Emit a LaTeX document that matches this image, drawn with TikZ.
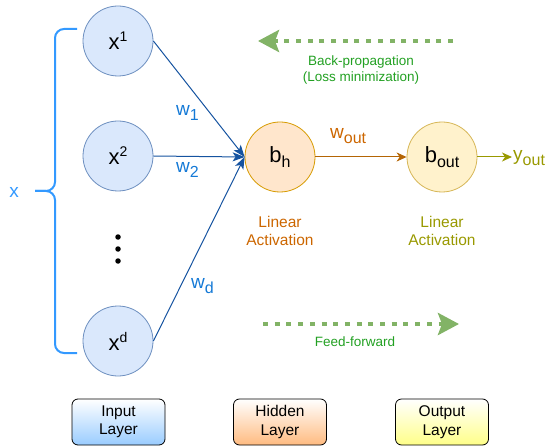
\documentclass[tikz,border=0pt]{standalone}
\usepackage{fontspec}
\setmainfont{Liberation Sans}
\usetikzlibrary{arrows.meta,shapes.geometric}
\definecolor{inFill}{HTML}{DAE8FC}
\definecolor{inDraw}{HTML}{6C8EBF}
\definecolor{hFill}{HTML}{FFE6CC}
\definecolor{hDraw}{HTML}{D79B00}
\definecolor{oFill}{HTML}{FFF2CC}
\definecolor{oDraw}{HTML}{D6B656}
\definecolor{edgeBlue}{HTML}{1553A0}
\definecolor{wBlue}{HTML}{1479D6}
\definecolor{braceBlue}{HTML}{3399FF}
\definecolor{edgeBrown}{HTML}{B46504}
\definecolor{txtOrange}{HTML}{CC6600}
\definecolor{olive}{HTML}{999900}
\definecolor{arrGreen}{HTML}{82B366}
\definecolor{txtGreen}{HTML}{22A022}
\definecolor{gBlue}{HTML}{99CCFF}
\definecolor{gOrange}{HTML}{FFBB80}
\definecolor{gYellow}{HTML}{FFFF88}
\newcommand\mysup[1]{\raisebox{8pt}{\fontsize{14}{14}\selectfont #1}}
\newcommand\mysub[1]{\raisebox{-5pt}{\fontsize{16}{16}\selectfont #1}}
\tikzset{
  neuronin/.style={circle,minimum size=70pt,inner sep=0pt,fill=inFill,draw=inDraw,line width=0.8pt,font=\fontsize{22}{24}\selectfont},
  neuronh/.style={circle,minimum size=70pt,inner sep=0pt,fill=hFill,draw=hDraw,line width=0.8pt,font=\fontsize{22}{24}\selectfont},
  neurono/.style={circle,minimum size=70pt,inner sep=0pt,fill=oFill,draw=oDraw,line width=0.8pt,font=\fontsize{22}{24}\selectfont},
  wlabel/.style={text=wBlue,font=\fontsize{19}{22}\selectfont,inner sep=0pt,anchor=base west},
  inedge/.style={draw=edgeBlue,line width=1pt,-{Stealth[length=12pt,width=9pt,inset=3pt]}},
  flowarrow/.style={draw=arrGreen,line width=4.5pt,dash pattern=on 5pt off 6.7pt,-{Stealth[length=21pt,width=22pt,inset=4pt]}},
  greentxt/.style={text=txtGreen,font=\fontsize{13.5}{16}\selectfont,align=center,inner sep=0pt},
  acttxt/.style={font=\fontsize{15.5}{18.5}\selectfont,align=center,inner sep=0pt},
  layerbox/.style={draw=black,line width=0.8pt,rounded corners=6pt,minimum width=93pt,minimum height=46pt,align=center,font=\fontsize{15.5}{18.5}\selectfont,inner sep=0pt},
  dot/.style={circle,fill=black,inner sep=0pt,minimum size=5.5pt}
}
\begin{document}
\begin{tikzpicture}[x=1pt,y=-1pt]
\useasboundingbox (0,0) rectangle (548,446);
% input neurons
\node[neuronin] (x1) at (118,41) {x\mysup{1}};
\node[neuronin] (x2) at (118,156) {x\mysup{2}};
\node[neuronin] (xd) at (118,341) {x\mysup{d}};
\node[dot] (d1) at (118,237) {};
\node[dot] (d2) at (118,249) {};
\node[dot] (d3) at (118,261) {};
% hidden and output
\node[neuronh] (bh) at (280,157) {b\mysub{h}};
\node[neurono] (bo) at (442,157) {b\mysub{out}};
\node[anchor=base west,inner sep=0pt,text=olive,font=\fontsize{19}{22}\selectfont] (yo) at (513,161) {y\mysub{out}};
\coordinate (yoin) at (512,157);
% edges
\draw[inedge] (x1.east) -- (bh.west);
\draw[inedge] (x2.east) -- (bh.west);
\draw[inedge] (xd.east) -- (bh.west);
\draw[draw=edgeBrown,line width=1pt,-{Stealth[length=10pt,width=9pt,inset=3pt]}] (bh) -- (bo);
\draw[draw=olive,line width=1pt,-{Stealth[length=10pt,width=9pt,inset=3pt]}] (bo.east) -- (yoin);
% weight labels
\node[wlabel] (w1) at (176,116) {w\mysub{1}};
\node[wlabel] (w2) at (176,173) {w\mysub{2}};
\node[wlabel] (wd) at (191,288) {w\mysub{d}};
\node[wlabel,text=txtOrange] (wo) at (330,139) {w\mysub{out}};
% activation labels
\node[acttxt,text=txtOrange] (a1) at (280,231) {Linear\\Activation};
\node[acttxt,text=olive] (a2) at (442,231) {Linear\\Activation};
% brace
\coordinate (bt) at (77,29);
\coordinate (bb) at (77,353);
\coordinate (btip) at (35,191);
\draw[braceBlue,line width=2pt,rounded corners=9pt] (bt) -- (55,29) -- (55,191) -- (btip);
\draw[braceBlue,line width=2pt,rounded corners=9pt] (bb) -- (55,353) -- (55,191) -- (btip);
\node[text=braceBlue,font=\fontsize{19}{22}\selectfont,inner sep=0pt,anchor=base] (xl) at (14,198) {x};
% flow arrows
\coordinate (bps) at (453,41);
\coordinate (bpe) at (258,41);
\draw[flowarrow] (bps) -- (bpe);
\node[greentxt] (bpt) at (361,70) {Back-propagation\\(Loss minimization)};
\coordinate (ffs) at (263,324);
\coordinate (ffe) at (459,324);
\draw[flowarrow] (ffs) -- (ffe);
\node[greentxt] (fft) at (355,342) {Feed-forward};
% layer boxes
\node[layerbox,top color=white,bottom color=gBlue] (L1) at (118.5,422) {Input\\Layer};
\node[layerbox,top color=white,bottom color=gOrange] (L2) at (280,422) {Hidden\\Layer};
\node[layerbox,top color=white,bottom color=gYellow] (L3) at (442,422) {Output\\Layer};
\end{tikzpicture}
\end{document}
